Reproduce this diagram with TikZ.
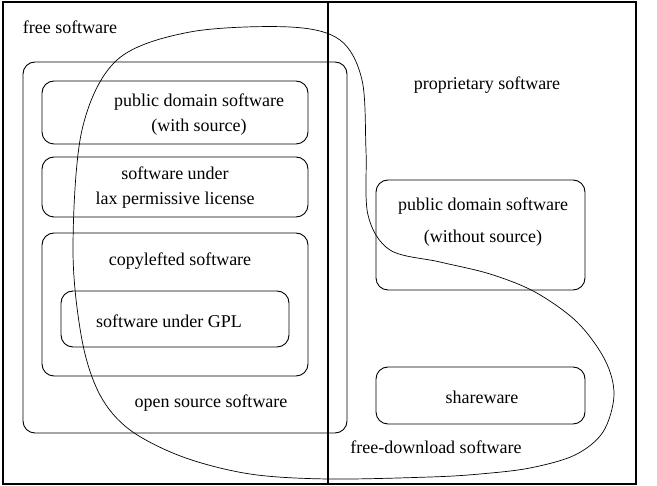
\documentclass[tikz,border=0pt]{standalone}
\usepackage{fontspec}
\setmainfont{Liberation Serif}
\usepackage{tikz}

\begin{document}
\begin{tikzpicture}[x=1pt,y=-1pt,line width=0.9pt,
  box/.style={draw,rounded corners=12pt},
  label node/.style={font=\fontsize{18}{21}\selectfont,align=center,inner sep=0pt}]

  \useasboundingbox (0,0) rectangle (657,486);

  % frame
  \draw[line width=1.2pt] (3,2) rectangle (636,484);
  \draw[line width=1.2pt] (328,2) -- (328,484);

  % free side
  \draw[box] (23,62) rectangle (347,433);
  \draw[box] (42,81) rectangle (308,144);
  \draw[box] (42,157) rectangle (308,217);
  \draw[box] (42,233) rectangle (308,376);
  \draw[box] (61,291) rectangle (289,347);

  % proprietary side
  \draw[box] (376,180) rectangle (585,290);
  \draw[box] (376,367) rectangle (585,424);

  \node[label node] (free) at (70,27) {free software};
  \node[label node] (pdws) at (199,115) {public domain software\\[4pt](with source)};
  \node[label node] (lax) at (175,188) {software under\\[4pt]lax permissive license};
  \node[label node] (copyleft) at (180,261) {copylefted software};
  \node[label node] (gpl) at (169,321) {software under GPL};
  \node[label node] (oss) at (211,403) {open source software};
  \node[label node] (prop) at (487,85) {proprietary software};
  \node[label node] (pdns) at (483,222) {public domain software\\[11pt](without source)};
  \node[label node] (share) at (482,397) {shareware};
  \node[label node] (download) at (436,447) {free-download software};

  % free-download region
  \draw[line width=0.7pt] plot[smooth cycle,tension=0.55] coordinates {
    (73,250) (82,130) (117,60) (190,32) (290,27) (340,40) (362,80)
    (366,150) (368,215) (390,250) (440,262) (490,274) (535,292)
    (577,322) (605,360) (614,395) (603,432) (575,455) (530,468)
    (480,474) (430,477) (328,479) (250,474) (183,457) (130,430)
    (100,395) (82,340)};
\end{tikzpicture}
\end{document}
